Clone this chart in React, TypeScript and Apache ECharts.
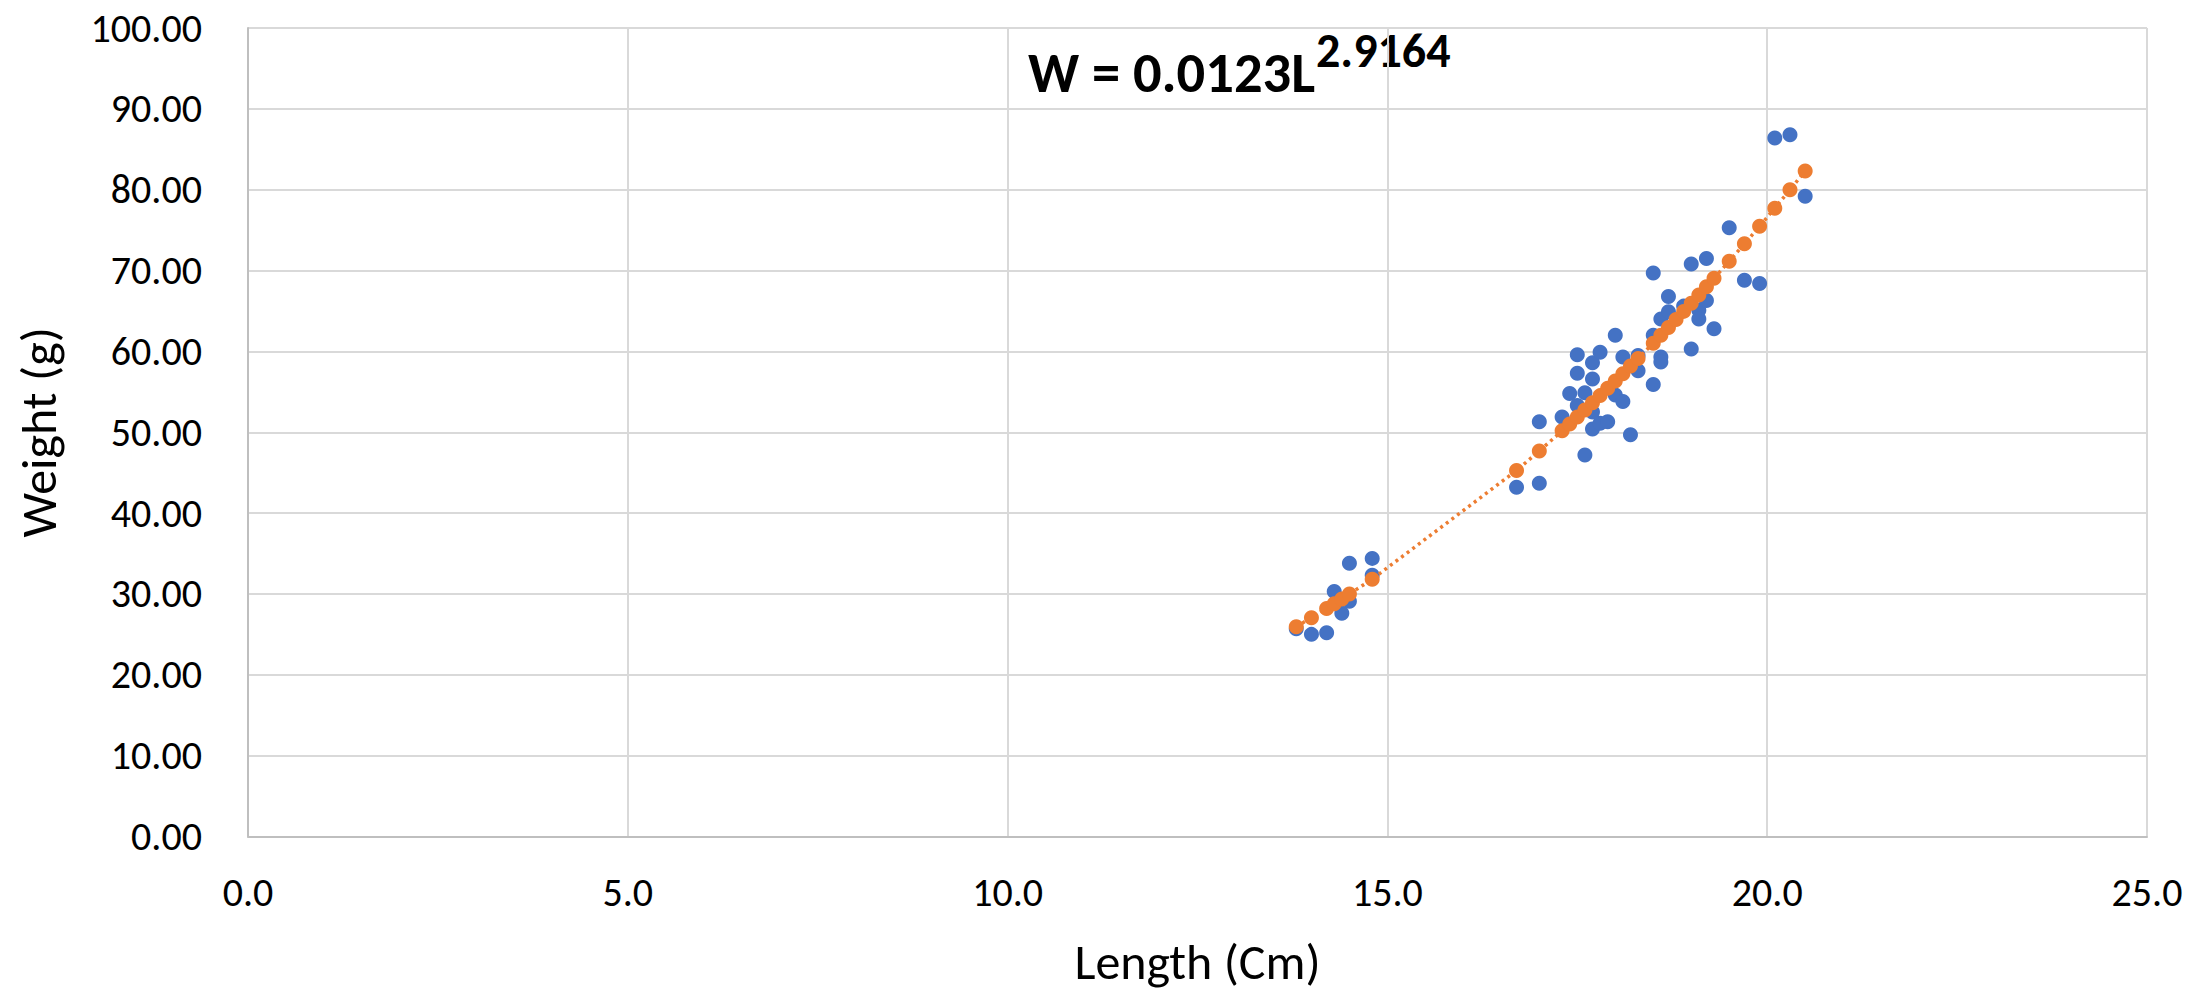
import React, { useEffect, useRef } from "react";
import * as echarts from "echarts";

// Observed fish data (blue)
const blueLength = [
  13.8, 14.0, 14.2, 14.3, 14.4, 14.5, 14.5, 14.8, 14.8, 16.7, 17.0, 17.0, 17.3, 17.4,
  17.5, 17.5, 17.5, 17.6, 17.6, 17.7, 17.7, 17.7, 17.7, 17.8, 17.8, 17.9, 18.0, 18.0,
  18.1, 18.1, 18.2, 18.3, 18.3, 18.5, 18.5, 18.5, 18.6, 18.6, 18.6, 18.7, 18.7, 18.9,
  19.0, 19.0, 19.1, 19.1, 19.2, 19.2, 19.3, 19.5, 19.7, 19.9, 20.1, 20.3, 20.5,
];
const blueWeight = [
  25.7, 25.0, 25.2, 30.3, 27.6, 29.1, 33.8, 34.4, 32.3, 43.2, 43.7, 51.3, 51.9, 54.8,
  53.3, 57.3, 59.6, 54.9, 47.2, 58.6, 56.6, 52.5, 50.4, 59.9, 51.1, 51.3, 62.0, 54.6,
  59.3, 53.8, 49.7, 59.5, 57.6, 69.7, 62.0, 55.9, 64.0, 59.3, 58.7, 66.8, 64.9, 65.6,
  70.8, 60.3, 65.1, 64.0, 71.5, 66.3, 62.8, 75.3, 68.8, 68.4, 86.4, 86.8, 79.2,
];

// Fitted weights (orange)
const fitLength = [
  13.8, 14.0, 14.2, 14.3, 14.4, 14.5, 14.8, 16.7, 17.0, 17.3, 17.4, 17.5, 17.6, 17.7,
  17.8, 17.9, 18.0, 18.1, 18.2, 18.3, 18.5, 18.6, 18.7, 18.8, 18.9, 19.0, 19.1, 19.2,
  19.3, 19.5, 19.7, 19.9, 20.1, 20.3, 20.5,
];
const fitWeight = [
  25.94, 27.07, 28.21, 28.8, 29.39, 29.99, 31.83, 45.27, 47.68, 50.18, 51.03, 51.89,
  52.76, 53.64, 54.53, 55.43, 56.33, 57.25, 58.18, 59.12, 61.02, 61.99, 62.96, 63.95,
  64.95, 65.96, 66.97, 68.0, 69.04, 71.15, 73.3, 75.49, 77.72, 80.0, 82.32,
];

const xTicks = [0, 5, 10, 15, 20, 25];
const yTicks = [0, 10, 20, 30, 40, 50, 60, 70, 80, 90, 100];
const equationMain = "W = 0.0123L";
const equationExp = "2.9164";
const xName = "Length (Cm)";
const yName = "Weight (g)";

const FONT = "Carlito, Lato, 'Open Sans', sans-serif";

export default function App() {
  const ref = useRef<HTMLDivElement>(null);

  useEffect(() => {
    document.body.style.margin = "0";
    document.body.style.overflow = "hidden";
    if (!ref.current) return;
    const chart = echarts.init(ref.current, undefined, { renderer: "svg" });

    const blueData = blueLength.map((l, i) => [l, blueWeight[i]]);
    const fitData = fitLength.map((l, i) => [l, fitWeight[i]]);

    const option: any = {
      animation: false,
      backgroundColor: "#ffffff",
      grid: { left: 248, right: 50, top: 28, bottom: 158.5 },
      xAxis: {
        type: "value",
        min: xTicks[0],
        max: xTicks[xTicks.length - 1],
        interval: xTicks[1] - xTicks[0],
        name: xName,
        nameLocation: "middle",
        nameGap: 100,
        nameTextStyle: { fontSize: 50, color: "#000", fontFamily: FONT },
        axisLine: { show: true, lineStyle: { color: "#bfbfbf", width: 2 } },
        axisTick: { show: false },
        axisLabel: {
          fontSize: 40,
          color: "#000",
          fontFamily: FONT,
          margin: 36,
          formatter: (v: number) => v.toFixed(1),
        },
        splitLine: { show: true, lineStyle: { color: "#d9d9d9", width: 2 } },
      },
      yAxis: {
        type: "value",
        min: yTicks[0],
        max: yTicks[yTicks.length - 1],
        interval: yTicks[1] - yTicks[0],
        name: yName,
        nameLocation: "middle",
        nameGap: 185,
        nameTextStyle: { fontSize: 50, color: "#000", fontFamily: FONT },
        axisLine: { show: true, lineStyle: { color: "#bfbfbf", width: 2 } },
        axisTick: { show: false },
        axisLabel: {
          fontSize: 40,
          color: "#000",
          fontFamily: FONT,
          margin: 46,
          formatter: (v: number) => v.toFixed(2),
        },
        splitLine: { show: true, lineStyle: { color: "#d9d9d9", width: 2 } },
      },
      series: [
        {
          type: "scatter",
          data: blueData,
          symbol: "circle",
          symbolSize: 15,
          itemStyle: { color: "#4472C4", opacity: 1 },
          z: 2,
        },
        {
          type: "line",
          data: fitData,
          showSymbol: false,
          symbol: "none",
          lineStyle: { color: "#ED7D31", width: 3.5, type: [3, 4] },
          z: 3,
        },
        {
          type: "scatter",
          data: fitData,
          symbol: "circle",
          symbolSize: 15,
          itemStyle: { color: "#ED7D31", opacity: 1 },
          z: 4,
        },
      ],
      graphic: [
        {
          type: "text",
          left: 1028,
          top: 44,
          style: {
            text: equationMain,
            fontSize: 56.5,
            fontWeight: "bold",
            fontFamily: FONT,
            fill: "#000",
          },
        },
        {
          type: "text",
          left: 1316,
          top: 26,
          style: {
            text: equationExp,
            fontSize: 48,
            fontWeight: "bold",
            fontFamily: FONT,
            fill: "#000",
          },
        },
      ],
    };

    chart.setOption(option);
    return () => chart.dispose();
  }, []);

  return <div ref={ref} style={{ width: 2197, height: 995 }} />;
}
